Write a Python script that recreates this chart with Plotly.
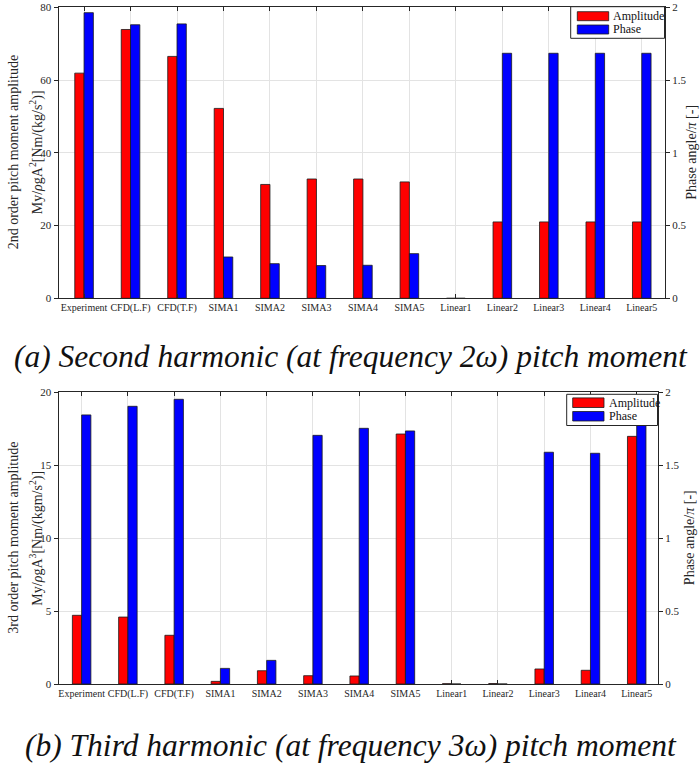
import plotly.graph_objects as go

# ---- data -------------------------------------------------------------
categories = ["Experiment", "CFD(L.F)", "CFD(T.F)", "SIMA1", "SIMA2", "SIMA3",
              "SIMA4", "SIMA5", "Linear1", "Linear2", "Linear3", "Linear4", "Linear5"]

# second harmonic (2ω)
amp_2w = [61.9, 73.9, 66.5, 52.2, 31.3, 32.8, 32.8, 32.0, 0.0, 21.0, 21.0, 21.0, 21.0]
phase_2w = [1.963, 1.880, 1.886, 0.284, 0.238, 0.225, 0.227, 0.307, 0.0, 1.684, 1.684, 1.684, 1.684]

# third harmonic (3ω)
amp_3w = [4.71, 4.59, 3.34, 0.18, 0.91, 0.57, 0.55, 17.14, 0.02, 0.03, 1.03, 0.94, 16.98]
phase_3w = [1.845, 1.904, 1.952, 0.107, 0.162, 1.705, 1.753, 1.735, 0.0, 0.0, 1.589, 1.582, 1.85]

amp_ticks_2w = [0, 20, 40, 60, 80]
amp_ticks_3w = [0, 5, 10, 15, 20]
phase_ticks = [0, 0.5, 1, 1.5, 2]

# ---- figure geometry (pixels of a 700 x 771 page) -----------------------
W, H = 700, 771
RED, BLUE = "#ff0000", "#0000ff"
AX = "#262626"
GRID = "#e3e3e3"
SERIF = "Liberation Serif"


def px(x):
    return x / W


def py(y):
    return 1 - y / H


panels = [
    dict(xd=[px(58.5), px(665)], yd=[py(298.3), py(7.3)], xr=[0.45, 13.5],
         amp=amp_2w, phase=phase_2w, aticks=amp_ticks_2w, arange=[0, 80],
         ylab1="2nd order pitch moment amplitude",
         ylab2="My/<i>ρ</i>gA<sup>2</sup>[Nm/(kg/s<sup>2</sup>)]",
         caption="(a) Second harmonic (at frequency 2ω) pitch moment", cap_y=356,
         legend=dict(box=(570.7, 6.7, 664.5, 38.3), sw_x=(577.3, 608.7),
                     sw_y=((11.7, 20.7), (25.0, 34.0)), tx=611)),
    dict(xd=[px(58.5), px(658)], yd=[py(684), py(392.3)], xr=[0.5, 13.46],
         amp=amp_3w, phase=phase_3w, aticks=amp_ticks_3w, arange=[0, 20],
         ylab1="3rd order pitch moment amplitude",
         ylab2="My/<i>ρ</i>gA<sup>3</sup>[Nm/(kgm/s<sup>2</sup>)]",
         caption="(b) Third harmonic (at frequency 3ω) pitch moment", cap_y=745,
         legend=dict(box=(566.7, 394.3, 657.5, 425.5), sw_x=(572.7, 604),
                     sw_y=((397.9, 407.5), (411.5, 421.0)), tx=606.5)),
]

fig = go.Figure()
shapes, annotations = [], []
layout = {}

for i, p in enumerate(panels):
    xa = "x" if i == 0 else "x2"
    ya = "y" if i == 0 else "y3"
    yb = "y2" if i == 0 else "y4"
    xkey = "xaxis" if i == 0 else "xaxis2"
    yakey = "yaxis" if i == 0 else "yaxis3"
    ybkey = "yaxis2" if i == 0 else "yaxis4"
    pos = list(range(1, len(categories) + 1))

    fig.add_trace(go.Bar(x=pos, y=p["amp"], xaxis=xa, yaxis=ya, width=0.2, offset=-0.2,
                         marker=dict(color=RED, line=dict(color="#1a1a1a", width=0.8)),
                         name="Amplitude", showlegend=False))
    fig.add_trace(go.Bar(x=pos, y=p["phase"], xaxis=xa, yaxis=yb, width=0.2, offset=0,
                         marker=dict(color=BLUE, line=dict(color="#1a1a1a", width=0.8)),
                         name="Phase", showlegend=False))

    tickfont = dict(family=SERIF, size=11, color=AX)
    xtickfont = dict(family=SERIF, size=10, color=AX)
    layout[xkey] = dict(domain=p["xd"], anchor=ya, range=p["xr"], tickvals=pos,
                        ticktext=categories, ticks="inside", ticklen=4, tickcolor=AX,
                        showline=True, linecolor=AX, linewidth=1, mirror="ticks",
                        showgrid=True, gridcolor=GRID, gridwidth=1, zeroline=False,
                        tickfont=xtickfont, tickangle=0, automargin=False, fixedrange=True)
    layout[yakey] = dict(domain=p["yd"], anchor=xa, range=p["arange"], tickvals=p["aticks"],
                         ticks="outside", ticklen=4, tickcolor=AX, showline=True,
                         linecolor=AX, linewidth=1, showgrid=True, gridcolor=GRID,
                         zeroline=False, tickfont=tickfont, automargin=False)
    layout[ybkey] = dict(overlaying=ya, side="right", anchor=xa, range=[0, 2],
                         tickvals=phase_ticks, ticks="outside", ticklen=4, tickcolor=AX,
                         showline=True, linecolor=AX, linewidth=1, showgrid=False,
                         zeroline=False, tickfont=tickfont, automargin=False)

    ymid = (p["yd"][0] + p["yd"][1]) / 2
    title_font = dict(family=SERIF, size=14, color=AX)
    annotations += [
        dict(text=p["ylab1"], x=px(13.5), y=ymid, xref="paper", yref="paper",
             textangle=-90, showarrow=False, font=title_font, xanchor="center", yanchor="middle"),
        dict(text=p["ylab2"], x=px(36.5), y=ymid, xref="paper", yref="paper",
             textangle=-90, showarrow=False, font=title_font, xanchor="center", yanchor="middle"),
        dict(text="Phase angle/<i>π</i> [-]", x=px(692 if i == 0 else 689), y=ymid,
             xref="paper", yref="paper", textangle=-90, showarrow=False, font=title_font,
             xanchor="center", yanchor="middle"),
        dict(text=p["caption"], x=px(351), y=py(p["cap_y"]), xref="paper", yref="paper",
             showarrow=False, xanchor="center", yanchor="middle",
             font=dict(family=SERIF, size=31.5, color="#111111", style="italic")),
    ]

    # legend box
    lg = p["legend"]
    bx0, by0, bx1, by1 = lg["box"]
    shapes.append(dict(type="rect", xref="paper", yref="paper", x0=px(bx0), x1=px(bx1),
                       y0=py(by1), y1=py(by0), line=dict(color=AX, width=1),
                       fillcolor="white", layer="above"))
    for (sy0, sy1), col, lab in zip(lg["sw_y"], [RED, BLUE], ["Amplitude", "Phase"]):
        shapes.append(dict(type="rect", xref="paper", yref="paper",
                           x0=px(lg["sw_x"][0]), x1=px(lg["sw_x"][1]),
                           y0=py(sy1), y1=py(sy0), fillcolor=col,
                           line=dict(color="#1a1a1a", width=0.8), layer="above"))
        annotations.append(dict(text=lab, x=px(lg["tx"]), y=py((sy0 + sy1) / 2),
                                xref="paper", yref="paper", showarrow=False,
                                xanchor="left", yanchor="middle",
                                font=dict(family=SERIF, size=12, color="#111111")))

fig.update_layout(
    width=W, height=H,
    margin=dict(l=0, r=0, t=0, b=0),
    paper_bgcolor="white", plot_bgcolor="white",
    barmode="overlay", showlegend=False,
    shapes=shapes, annotations=annotations,
    **layout,
)

fig.write_html("out.html")
